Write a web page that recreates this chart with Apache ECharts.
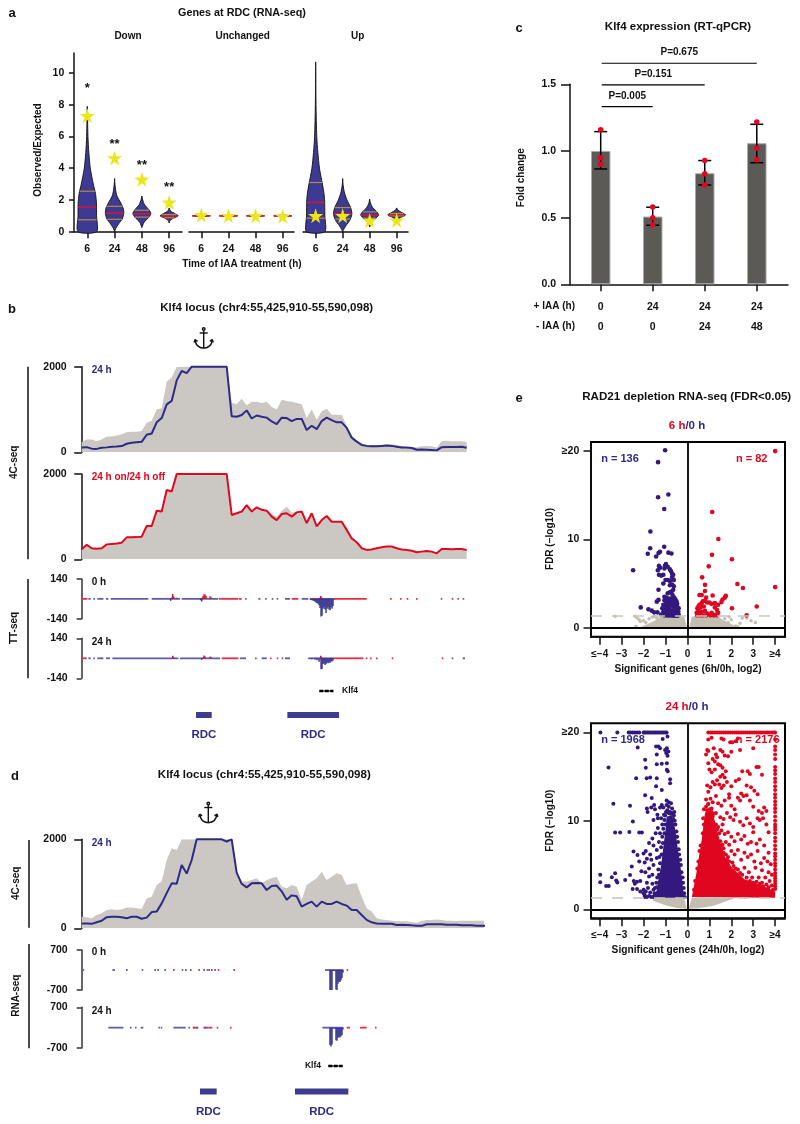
<!DOCTYPE html>
<html><head><meta charset="utf-8">
<script src="https://cdn.jsdelivr.net/npm/echarts@6/dist/echarts.min.js"></script>
<style>html,body{margin:0;padding:0;background:#fff}#c{width:800px;height:1124px}</style></head>
<body><div id="c"></div>
<script>
// ---------- panel a ----------
const hours = ['6','24','48','96'];
const violinDown6 = [[7.9,0],[7,.012],[6,.024],[5,.055],[4,.11],[3,.22],[2.4,.3],[1.8,.335],[1,.34],[0,.34]];
const violinDown24 = [[3.35,0],[3,.012],[2.5,.05],[2.2,.1],[1.9,.2],[1.5,.31],[1.2,.34],[.8,.28],[.5,.15],[.2,.04],[0,0]];
const violinDown48 = [[2.25,0],[2,.03],[1.7,.1],[1.4,.25],[1.15,.33],[.9,.25],[.6,.08],[.25,0]];
const violinDown96 = [[1.5,0],[1.3,.05],[1.15,.2],[1,.33],[.85,.15],[.7,.03],[.55,0]];
const violinFlat = [[1.06,0],[1,.33],[.94,0]];
const violinUp6 = [[10.7,0],[8,.012],[6,.04],[5,.08],[4,.14],[3,.25],[2.5,.3],[2,.33],[1,.34],[0,.34]];
const violinUp24 = [[3.35,0],[3,.012],[2.5,.06],[2,.16],[1.5,.3],[1.1,.34],[.7,.26],[.4,.13],[.15,.04],[0,0]];
const violinUp48 = [[2.05,0],[1.8,.03],[1.5,.12],[1.25,.27],[1.05,.33],[.8,.2],[.55,.06],[.3,0]];
const violinUp96 = [[1.5,0],[1.35,.05],[1.2,.2],[1.05,.33],[.9,.15],[.7,0]];
const quartDown = [[.75,1.55,2.55],[.78,1.17,1.6],[.92,1.12,1.35],[.88,.98,1.08]];
const quartFlat = [[1,1],[1,1],[1,1],[1,1]];
const quartUp = [[.85,1.85,3.1],[.8,1.13,1.52],[.85,1.05,1.25],[1,1.07,1.15]];
const starsDown = [7.3,4.65,3.3,1.85];
const starsFlat = [1.05,1,1,.97];
const starsUp = [1,1,.7,.72];
const sigDown = [['*',9.0],['**',5.5],['**',4.2],['**',2.8]];
// ---------- panel c ----------
const plusIAA = ['0','24','24','24'];
const minusIAA = ['0','0','24','48'];
const meanFold = [1.0,.508,.833,1.058];
const errFold = [[.865,1.145],[.443,.578],[.745,.928],[.912,1.2]];
const pointsFold = [[1.16,.95,.9],[.58,.5,.447],[.928,.83,.745],[1.218,1.02,.935]];
const pBrackets = [[0,1,1.332,'P=0.005'],[0,2,1.495,'P=0.151'],[0,3,1.658,'P=0.675']];
// ---------- 4C tracks (one value per bin) ----------
const binStep = 15;
const b24line = [110,120,85,80,105,115,130,135,145,200,225,235,245,410,440,700,800,1120,1200,1680,1900,1850,2000,2000,2000,2000,2000,2000,2000,2000,840,830,870,980,790,860,830,810,720,660,810,800,730,780,780,520,620,540,730,810,750,700,700,570,340,250,170,150,140,140,150,160,150,130,110,110,100,60,65,60,55,45,120,125,125,125,130,105];
const b24grey = [240,300,300,260,300,370,370,390,420,470,480,480,500,690,740,1000,1030,1650,1750,2000,2000,2000,2000,2000,2000,2000,2000,2000,2000,2000,1150,1130,1250,1100,1180,1180,1150,1180,1060,1000,1230,1200,1180,1150,1120,800,1000,760,960,1020,880,880,870,620,400,280,210,170,170,170,170,190,190,170,150,120,130,110,140,150,140,110,260,270,260,260,260,240];
const b48line = [235,340,260,250,260,350,360,370,390,515,515,520,530,780,780,1140,1120,1625,1590,2000,2000,2000,2000,2000,2000,2000,2000,2000,2000,2000,1040,1080,1120,1270,1120,1220,1160,1140,1000,920,1060,1080,1000,1100,1120,850,1080,770,920,1015,880,880,880,690,490,400,260,220,230,260,280,300,300,260,230,220,200,165,180,195,180,140,240,240,235,240,240,220];
const b48grey = [225,330,250,240,250,345,355,365,385,510,510,515,525,770,770,1130,1110,1600,1570,2000,2000,2000,2000,2000,2000,2000,2000,2000,2000,2000,1050,1090,1130,1260,1130,1220,1170,1150,1060,1000,1130,1230,1100,1110,1120,860,1090,780,930,1010,870,870,870,680,470,370,240,200,215,240,265,285,285,245,215,205,185,150,165,180,165,125,225,225,220,225,225,205];
const d24line = [110,110,100,135,170,250,260,260,250,225,260,260,215,240,365,375,560,790,1010,1000,1420,1230,1535,2000,2000,2000,2000,2000,2000,1950,2000,1250,1000,920,1010,1020,1010,860,950,960,830,640,740,720,487,547,600,487,600,547,547,600,547,510,410,410,300,190,135,110,105,105,100,75,80,75,67,60,55,90,90,90,90,80,80,80,67,67,67,60,60,55];
const d24grey = [260,250,225,300,340,410,430,410,430,470,465,450,435,670,710,975,1050,1535,1800,1760,2000,2000,2000,2000,2000,2000,2000,2000,2000,2000,2000,1235,1050,1050,1085,1125,1010,1085,1125,1160,935,900,975,935,640,975,1050,1125,1270,1085,1160,1235,1200,975,1000,1010,710,450,375,225,200,187,172,157,157,157,142,127,165,187,187,200,187,172,172,165,172,172,172,172,172,172];
// ---------- nascent / steady-state RNA tracks: x offset in window units ----------
const tt0BlueRuns = [[20,27],[35,38],[47,65],[73,80],[87,200],[210,295],[300,410],[472,476],[490,493],[550,553],[570,573],[585,588],[610,625],[660,680],[685,755],[1077,1080],[1127,1130],[1143,1146]];
const tt0RedRuns = [[0,17],[412,420],[420,470],[475,478],[530,536],[630,650],[690,700],[755,855],[925,930],[955,958],[975,978],[1003,1006],[1110,1113]];
const tt0Plus = [[270,10],[273,35],[276,15],[285,8],[362,10],[364,18],[367,32],[370,30],[373,20],[385,18],[388,10],[714,8],[717,20],[720,10]];
const tt0Minus = [[267,-14],[357,-10],[360,-18],[685,-5],[688,-7],[691,-9],[694,-12],[697,-15],[700,-20],[703,-25],[706,-30],[709,-35],[712,-45],[715,-65],[718,-125],[721,-120],[724,-70],[727,-60],[730,-75],[733,-100],[736,-70],[739,-60],[742,-75],[745,-80],[748,-60],[751,-70],[754,-50],[757,-5]];
const tt24BlueRuns = [[20,27],[35,38],[47,65],[73,85],[92,290],[295,415],[475,493],[540,555],[600,603],[610,625],[680,755],[1110,1113],[1143,1150]];
const tt24RedRuns = [[0,15],[420,470],[520,523],[565,568],[585,588],[755,845],[852,855],[865,868],[883,886],[930,933],[1080,1083]];
const tt24Plus = [[273,18],[276,8],[365,8],[367,20],[370,12],[385,13],[388,8],[717,18],[720,8]];
const tt24Minus = [[360,-10],[680,-3],[690,-6],[700,-9],[706,-14],[712,-25],[718,-77],[721,-75],[724,-40],[727,-35],[730,-47],[733,-40],[736,-30],[739,-35],[742,-30],[745,-32],[748,-22],[751,-23],[754,-15]];
const rna0BlueRuns = [[3,5],[92,100],[133,135],[180,182],[218,222],[227,229],[248,250],[300,303],[310,313],[325,327],[350,353],[365,368],[380,383],[398,401],[730,785]];
const rna0RedRuns = [[274,276],[375,378],[388,390],[408,410],[455,457],[795,798]];
const rna0Minus = [[745,-700],[748,-700],[751,-700],[754,-30],[757,-30],[760,-30],[763,-680],[766,-700],[769,-480],[772,-400],[775,-420],[778,-360],[781,-280],[784,-100]];
const rna24BlueRuns = [[80,125],[145,148],[160,163],[177,185],[230,233],[237,240],[275,312],[320,323],[335,350],[365,380],[722,785]];
const rna24RedRuns = [[333,336],[343,346],[368,372],[380,392],[405,408],[445,447],[795,805],[835,855],[880,883]];
const rna24Minus = [[745,-600],[748,-650],[751,-580],[754,-30],[757,-30],[760,-30],[763,-430],[766,-450],[769,-340],[772,-340],[775,-330],[778,-300],[781,-250],[784,-60]];
const rdcB = [[343,390],[617,772]];
const rdcD = [[355,405],[640,800]];
const klf4B = [713,755];
const klf4D = [740,783];
// ---------- panel e ----------
const xLabels = {'-4':'≤−4','-3':'−3','-2':'−2','-1':'−1','0':'0','1':'1','2':'2','3':'3','4':'≥4'};
const yLabels = {'0':'0','10':'10','20':'≥20'};
const blue6 = [[-1.02,20.1],[-1.34,18.75],[-.87,15.08],[-1.34,14.77],[-1.06,13.45],[-1.69,10.9],[-1.06,9.17],[-1.7,9],[-1.81,8.37],[-.87,8.5],[-.73,8.4],[-1.25,8.6],[-1.32,8.45],[-1.43,8.07],[-2.48,6.5],[-2.13,2.3],[-1.78,2.08],[-1.63,1.93],[-1.52,1.74],[-1.37,1.74],[-1.32,4.3],[-1.4,2.95],[-1.32,3.15],
[-1.3,7],[-1.35,6.5],[-1.25,6.8],[-1.3,6],[-1.2,5.9],[-1.1,6],[-.98,7.2],[-1.03,7],[-1.05,6.7],[-.9,6.9],[-.8,6.6],[-.75,6.4],[-.7,6.1],[-.65,6],[-.7,5.7],[-.62,5.4],[-.8,5.3],[-.9,5.4],[-1,5.4],[-1.1,5],[-.8,4.8],[-.7,4.9],[-.62,4.7],[-.65,4.3],[-.72,4.1],[-.8,4],[-.9,3.9],[-.68,3.7],[-1.05,3.5],[-.95,3.4],[-.8,3.3],[-.7,3.2],[-.6,3.4],[-.55,3.2],[-.5,3],[-1.05,3.1],[-.98,3],[-.9,2.95],[-.8,2.9],[-.72,2.85],[-.64,2.8],[-.55,2.75],[-.47,2.7],[-1.1,2.6],[-1,2.55],[-.93,2.5],[-.85,2.45],[-.75,2.5],[-.65,2.4],[-.55,2.35],[-.45,2.3],[-.4,2.2],[-1,2.1],[-.9,2.05],[-.8,2],[-.7,1.95],[-.6,2],[-.5,1.9],[-.42,1.85],[-1.1,1.8],[-1,1.7],[-.9,1.65],[-.8,1.6],[-.7,1.6],[-.6,1.55],[-.5,1.5],[-.4,1.5],[-1.05,1.4],[-.95,1.4],[-.85,1.38],[-.75,1.38],[-.65,1.35],[-.55,1.36],[-.45,1.35],[-.75,1.8],[-.65,1.75],[-.55,1.7],[-.45,1.65],[-1.2,1.5],[-1.15,2.2],[-.85,2.7],[-.6,2.55]];
const red6 = [[4,20],[1.13,13.1],[1.41,10.05],[1.12,8.25],[2.03,7.75],[.97,6.95],[.67,5.7],[.8,4.85],[2.28,4.95],[2.53,4.5],[4,4.6],[.8,4.15],[3.16,2.4],[2.03,2.2],[2.7,1.4],[.55,3.7],[.65,3.7],[.85,3.4],[1.15,3.65],[1.75,3.6],[1.7,3.4],[1.6,3.2],[1.55,2.9],[1.4,2.6],[.8,3.05],[.7,3],[.65,2.8],[.9,2.85],[1,2.85],[1.1,2.7],[1.25,2.8],[.55,2.6],[.5,2.4],[.45,2.2],[.6,2.3],[.75,2.4],[.5,1.9],[.42,1.7],[.55,1.6],[.65,1.8],[.8,1.9],[.9,1.6],[1,1.5],[1.1,1.7],[1.25,2.3],[1.35,2],[1.4,1.7],[1.3,1.5],[.45,1.4],[.6,1.4],[.7,1.4],[.85,1.4],[1.05,1.4],[1.2,1.4],[1.35,1.4],[.5,1.5]];
const grey6 = [[-3.3,1.3],[-2.4,1.3],[-2.3,1.1],[-2.2,.9],[-2.15,.7],[-2,.8],[-1.9,.6],[-1.75,1],[-1.6,1.2],[-1.5,1.3],[-1.4,1.1],[-2.35,.15],[2.5,1.1],[2.7,1.1],[2.9,.8],[3.1,.6],[2.4,.5],[2.2,.2],[2.3,.1],[2,.9],[1.9,1.25],[1.85,.6],[1.7,1]];
const greyArea6 = [[-.02,0],[-.15,1.25],[-.4,1.35],[-1.2,1.3],[-1.45,.85],[-2.1,.1],[-2.2,0]];
const greyArea6b = [[.08,0],[.2,1.25],[.45,1.35],[1.4,1.3],[1.6,.9],[2.1,.3],[2.35,0]];
const blueArea24 = [[-1.45,1.3],[-1.35,3],[-1.2,5],[-1.1,7],[-1,9],[-.95,10.5],[-.7,10.6],[-.55,9],[-.45,7],[-.3,4.5],[-.15,1.3]];
const redArea24 = [[.2,1.4],[.4,4],[.65,7.85],[.8,10.9],[1,11.6],[1.25,10],[1.45,8],[1.7,6],[2,4.8],[2.6,3.4],[3.3,2.8],[4,2],[4,1.3]];
const greyArea24a = [[-.03,.05],[-.15,1.3],[-1.5,1.3],[-1.6,1],[-1,.45],[-.5,.15]];
const greyArea24b = [[.05,.05],[.2,1.3],[2.2,1.3],[1.2,.4],[.5,.12]];
const blue24Top = [-3.97,-3.2,-2.68,-2.6,-2.5,-2.4,-2.3,-2.2,-2,-1.95,-1.9,-1.82,-1.75,-1.68,-1.6,-1.52,-1.45,-1.38,-1.3,-1.22,-1.15,-1.08,-1,-.95];
const blue24 = [[-3.98,3.9],[-3.98,3.05],[-3.71,2.64],[-3.59,2.64],[-3.45,3.62],[-3.3,4.08],[-3.25,3.25],[-3.2,3.02],[-2.84,3.32],[-2.62,3.89],[-2.54,4.83],[-2.46,6.53],[-2.28,6.15],[-3.6,16.04],[-3.38,11.92],[-3.3,8.68],[-3.07,8.68],[-2.62,11.7],[-2.49,9.92],[-2.65,8.75],[-2.2,8.68],[-2.08,8.68],[-2.34,14.83],[-2.27,18.3],[-1.93,16.9],[-1.9,16],[-1.86,14.83],[-1.7,14.9],[-1.4,14.83],[-1.93,12.9],[-1.63,12.57],[-1.43,13.9],[-1.17,13.5],[-.79,14.7],[-.79,14.26],[-.94,15.77],[-.9,15.6],[-.94,16.5],[-1.4,16.4],[-1.17,16.45],[-1.43,18.4],[-1.32,18.4],[-1.25,18.2],[-1.13,19.25],[-.91,19.55],[-1.02,18],[-.94,18.2],[-.97,17.66],[-.87,17.85],[-.91,17.36],[-1.4,17.5],
[-1.85,11.4],[-1.82,11],[-1.65,11.5],[-1.52,11.8],[-1.48,11.3],[-1.37,10.7],[-1.25,11.5],[-1.17,11.8],[-1.1,11.5],[-1.07,10.7],[-.95,12.3],[-.85,12.1],[-.75,12],[-.95,11.8],[-.85,11.6],[-.7,11.4],[-.8,11],[-.62,10.6],[-1.35,10.3],[-1.2,10.3],[-1.55,10.1],[-1.35,9.2],[-1.25,8.6],[-1.15,9.6],[-1.45,8.6],[-1.6,8],[-1.55,7.2],[-1.3,7.6],[-1.75,7.5],[-1.9,6.6],[-2,6.3],[-1.85,5.7],[-1.7,6.2],[-1.65,5.6],[-1.55,5],[-1.4,5.8],[-1.4,6.7],[-1.95,5.3],[-2.2,5.4],[-2.1,4.3],[-1.92,4.2],[-1.75,4.6],[-1.6,3.9],[-1.75,3.7],[-2.45,3.2],[-2.3,3.1],[-2.15,3.2],[-2.4,2.9],[-2.5,2.3],[-2.3,2.3],[-2.15,2],[-2,2.2],[-1.95,1.6],[-1.85,3],[-1.8,2.4],[-1.7,1.9],[-1.6,2.9],[-1.55,2.2],[-1.5,1.6],[-1.95,1.4],[-1.85,1.4],[-1.75,1.5],[-1.65,1.4],[-1.55,1.4],[-1.45,1.5],[-1.4,2.5],[-1.35,1.9],[-2,1.8],[-1.9,2],
[-.6,11],[-.65,10.2],[-.58,10],[-.55,9.6],[-.5,8.8],[-.47,8.2],[-.43,7.6],[-.4,6.8],[-.38,6.2],[-.33,5.6],[-.3,5],[-.27,4.2],[-.22,3.6],[-.2,3],[-.17,2.4],[-.15,1.8],[-.12,1.4],[-1.5,1.8],[-1.48,2.4],[-1.42,3],[-1.38,3.6],[-1.3,3.9],[-1.33,4.5],[-1.25,5.2],[-1.28,5.9],[-1.18,6.2],[-1.2,7],[-1.12,7.5],[-1.15,8.2],[-1.05,8.6],[-1.1,9.1],[-1,9.6],[-1.05,10.1],[-1.02,10.6],[-.98,11],[-.92,11.2],[-.86,10.9],[-.78,10.8],[-.72,10.9],[-.66,10.7]];
const red24Top = [.95,1.05,1.15,1.25,1.35,1.45,1.55,1.65,1.75,1.85,1.95,2.05,2.15,2.25,2.35,2.45,2.55,2.65,2.75,2.85,2.95,3.05,3.15,3.25,3.35,3.45,3.55,3.65,3.75,3.85,3.95,4];
const red24Column = [2.3,2.6,2.9,3.2,3.5,3.8,4.1,4.5,4.9,5.2,5.6,6,6.3,6.8,7.2,7.7,8.1,8.6,9,9.3,9.6,10,10.5,11,11.4,11.8,12.2,12.6,13,13.5,13.9,14.4,14.8,15.3,15.7,16.1,17,17.5,18,18.4,19.2];
const red24 = [[.95,19.2],[1.1,19.4],[1.55,19.3],[1.65,19.2],[1.95,18.9],[2.05,18.9],[2.2,19],[2.3,19.3],[3,18.2],[.9,18],[.85,17.5],[.95,17.9],[1.2,18.2],[1.3,17.5],[1.35,17.2],[1.5,18],[1.6,17.8],[1.7,17.4],[1.85,17.3],[2,17.8],[2.4,18],[1.15,17],[1.25,16.7],[.95,16.5],[1,15.8],[1.1,15.5],[1.25,15.8],[1.4,16.4],[1.5,16.3],[1.6,16],[1.75,15.6],[2.5,15.6],[2.75,15.6],[2.85,15.3],[3.15,16.1],[3.25,16.1],[3.4,15.2],[1.5,15],[1.6,15.2],[1.7,14.9],[.9,14],[.95,13.3],[1.05,13.8],[1.15,14.4],[1.25,14.1],[1.35,14.6],[1.45,14.1],[1.55,13.7],[1.65,14],[1.8,14.4],[2,13.9],[2.2,14.5],[2.35,14.7],[2.45,13.1],[2.7,14],[2.9,13.8],[3.05,13.4],[3.2,13],[1.9,13],[.85,12.4],[.95,11.9],[1.05,12.5],[1.15,12.1],[1.3,12.8],[1.4,12],[1.55,11.7],[1.7,12.3],[1.9,12.6],[2,11.7],[2.15,11.3],[2.3,12.6],[2.4,12.3],[2.55,12.8],[2.7,12.9],[2.85,12.3],[3,11.6],[3.25,11.1],[3.5,11.5],[3.6,11.1],[3.4,10.9],[1.3,10.9],[1.5,10.4],[1.65,10.2],[1.8,10.9],[1.95,10.4],[2.1,10.1],[2.2,10.7],[2.4,9.9],[2.55,9.5],[2.7,10.3],[2.85,9.7],[3,9.3],[3.2,10.3],[3.3,10.1],[3.45,10.3],[3.6,9.6],[1.55,8.9],[1.7,8.5],[1.85,8.7],[2,8.2],[2.15,7.7],[2.3,8.5],[2.45,7.9],[2.6,8.3],[2.75,7.4],[2.9,7.6],[3,8.7],[3.15,7.4],[3.3,7.9],[3.5,7.2],[3.7,8.7],[2,6.6],[2.15,6.2],[2.3,6.7],[2.45,5.6],[2.6,6.4],[2.75,5.9],[2.9,6.2],[3.05,5.4],[3.2,6.6],[3.35,5.2],[3.5,5.8],[3.65,5.4],[3.8,5.1],[3.7,6.4],[2.6,4.7],[2.8,4.2],[2.95,3.6],[3.1,4.7],[3.25,3.6],[3.4,4.4],[3.55,3.6],[3.7,4.2],[3.85,3.9],[3.75,3.2],[3.4,3],[1.6,9.6],[1.4,9.3],[1.75,7.6],[1.9,7.3],[1.65,6.9],[1.85,5.9],[1.2,10.8],[.9,11.2],[.95,10.8],[1.1,11.4],[.75,11.3],
[.3,2.2],[.35,3.2],[.45,4.6],[.5,5.4],[.55,6.6],[.6,7.2],[.7,8.6],[.75,9.6],[.72,10.3],[.85,11.6],[.95,11.9],[1.1,11],[1.15,10.5],[1.3,9.6],[1.35,9],[1.45,8.6],[1.5,7.7],[1.6,7.3],[1.55,6.9],[1.65,6.4],[1.75,6.2],[1.8,5.6],[1.9,5.4],[2.05,5.3],[2.1,4.9],[2.2,4.6],[2.3,4.5],[2.4,4.1],[2.5,3.9],[2.7,3.6],[2.85,3.2],[3,3],[3.15,3.1],[3.3,2.9],[3.45,2.6],[3.6,2.8],[3.7,2.5],[3.85,2.7],[3.9,2.2]];

// ---------- drawing ----------
const F = '"Liberation Sans",Arial,sans-serif';
const NAVY = '#2e2a86', RED = '#e3061f', VIOL = '#3d3a93', GREY = '#cbc7c3', INK = '#111';
const grid = [], xAxis = [], yAxis = [], series = [], graphic = [];

function ax(o){
  const a = {type:'value', min:o.min, max:o.max, gridIndex:grid.length, splitLine:{show:false}};
  if(!o.ticks){ a.show = false; return a; }
  a.axisLine = {show:o.line!==false, onZero:false, lineStyle:{color:o.color||INK, width:o.lw||1.5}};
  a.axisTick = {show:true, length:o.tl||5, customValues:o.ticks, lineStyle:{color:o.color||INK, width:o.lw||1.5}};
  a.axisLabel = {show:true, customValues:o.ticks, margin:o.margin||5, color:INK, fontFamily:F, fontWeight:'bold', fontSize:o.fs||10.5, lineHeight:o.lh||undefined,
    formatter:o.fmt||(v=>String(v))};
  return a;
}
function addGrid(l,t,r,b,xo,yo,extra){
  const x = ax(xo), y = ax(yo);
  grid.push(Object.assign({left:l,top:t,width:r-l,height:b-t}, extra||{}));
  xAxis.push(x); yAxis.push(y);
  return grid.length-1;
}
function custom(g, rows, render, z){
  series.push({type:'custom', coordinateSystem:'cartesian2d', xAxisIndex:g, yAxisIndex:g, silent:true, z:z||3,
    data:rows.map((_,i)=>[i,i]), renderItem:(p,api)=>render(rows[p.dataIndex],api,p.dataIndex)});
}
function scatter(g, data, color, size, z, symbol){
  series.push({type:'scatter', xAxisIndex:g, yAxisIndex:g, silent:true, data, symbolSize:size, symbol:symbol||'circle', itemStyle:{color, opacity:1}, z:z||4});
}
function text(x,y,t,o){
  o=o||{};
  graphic.push({type:'text', x, y, rotation:o.rot||0, silent:true, z:50,
    style:{text:t, fill:o.color||INK, font:`${o.weight||'bold'} ${o.fs||10.5}px ${F}`, textAlign:o.align||'center', textVerticalAlign:'middle', rich:o.rich}});
}
function vline(x,y0,y1){ graphic.push({type:'line', silent:true, shape:{x1:x,y1:y0,x2:x,y2:y1}, style:{stroke:INK,lineWidth:1.5}}); }
function anchor(x,y){
  const st={stroke:INK,lineWidth:1.4,fill:null};
  const seg=(a,b,c,d)=>graphic.push({type:'line',silent:true,shape:{x1:x+a,y1:y+b,x2:x+c,y2:y+d},style:st});
  graphic.push({type:'circle',silent:true,shape:{cx:x,cy:y-9,r:1.3},style:st});
  seg(0,-7.6,0,10); seg(-4,-5,4,-5);
  graphic.push({type:'bezierCurve',silent:true,shape:{x1:x-8.6,y1:y+1.6,cpx1:x-8,cpy1:y+8,cpx2:x-4,cpy2:y+10,x2:x,y2:y+10.2},style:st});
  graphic.push({type:'bezierCurve',silent:true,shape:{x1:x+8.6,y1:y+1.6,cpx1:x+8,cpy1:y+8,cpx2:x+4,cpy2:y+10,x2:x,y2:y+10.2},style:st});
  seg(-8.6,1.6,-9.6,4.4); seg(-8.6,1.6,-6.2,3.4); seg(8.6,1.6,9.6,4.4); seg(8.6,1.6,6.2,3.4);
}

// panel a
const STAR = 'path://M50,0 L61,35 98,35 68,57 79,91 50,70 21,91 32,57 2,35 39,35 Z';
function widthAt(p,v){
  for(let i=0;i<p.length-1;i++){ const a=p[i],b=p[i+1];
    if(v<=a[0]&&v>=b[0]) return a[1]+(b[1]-a[1])*(a[0]-v)/((a[0]-b[0])||1); }
  return 0;
}
function violins(g, profiles, quarts, stars){
  profiles.forEach((p,i)=>{
    custom(g,[p],(prof,api)=>{
      const unit = api.size([1,0])[0];
      const c = api.coord([i,0])[0];
      const pts = prof.map(r=>[c+r[1]*unit, api.coord([i,r[0]])[1]])
        .concat(prof.slice().reverse().map(r=>[c-r[1]*unit, api.coord([i,r[0]])[1]]));
      const kids = [{type:'polygon',shape:{points:pts,smooth:prof.length>4?0.25:0},style:{fill:VIOL,stroke:'#111',lineWidth:.9}}];
      quarts[i].forEach((q,k)=>{
        const w = widthAt(prof,q)*unit, y = api.coord([i,q])[1];
        kids.push({type:'line',shape:{x1:c-w,y1:y,x2:c+w,y2:y},style:{stroke:k===1?'#e3112f':'#b98b45',lineWidth:k===1?1.4:1.2}});
      });
      return {type:'group',children:kids};
    },3);
  });
  scatter(g, stars.map((v,i)=>[i,v]), '#ece51a', 15, 5, STAR);
}
const tickIdx=[0,1,2,3], fmtHour=v=>hours[v];
const aY={min:0,max:11.26,ticks:[0,2,4,6,8,10],tl:5,margin:9.7};
const gA1 = addGrid(74,53,182,231.7,{min:-.487,max:3.47,ticks:tickIdx,fmt:fmtHour,tl:6.5,margin:11.5},aY);
const gA2 = addGrid(189,53,294,231.7,{min:-.453,max:3.417,ticks:tickIdx,fmt:fmtHour,tl:6.5,margin:11.5},{min:0,max:11.26});
const gA3 = addGrid(303,53,408,231.7,{min:-.47,max:3.42,ticks:tickIdx,fmt:fmtHour,tl:6.5,margin:11.5},{min:0,max:11.26});
violins(gA1,[violinDown6,violinDown24,violinDown48,violinDown96],quartDown,starsDown);
violins(gA2,[violinFlat,violinFlat,violinFlat,violinFlat],quartFlat,starsFlat);
violins(gA3,[violinUp6,violinUp24,violinUp48,violinUp96],quartUp,starsUp);
custom(gA1,sigDown,(r,api,i)=>{
  const p=api.coord([i,r[1]]);
  return {type:'text',x:p[0],y:p[1],style:{text:r[0],fill:INK,font:`bold 13px ${F}`,textAlign:'center',textVerticalAlign:'middle'}};
},6);
text(12,13,'a',{fs:13}); text(242,12.7,'Genes at RDC (RNA-seq)',{fs:10.8});
text(128,36.7,'Down',{fs:10}); text(242.7,36.7,'Unchanged',{fs:10}); text(357.7,36.7,'Up',{fs:10});
text(38,150,'Observed/Expected',{rot:Math.PI/2,fs:10}); text(242,264.5,'Time of IAA treatment (h)',{fs:10});

// panel c
const gC = addGrid(570,84.3,788,284.3,{min:-.59,max:3.6,ticks:tickIdx,fmt:v=>plusIAA[v]+'\n'+minusIAA[v],tl:7,margin:13.5,lh:19.3},
  {min:0,max:1.5,ticks:[0,.5,1,1.5],fmt:v=>v.toFixed(1),tl:9,margin:14});
series.push({type:'bar',xAxisIndex:gC,yAxisIndex:gC,silent:true,barWidth:19.5,data:meanFold.map((v,i)=>[i,v]),
  itemStyle:{color:'#5b5a57',borderColor:'#a9a8a5',borderWidth:1},z:2});
custom(gC,errFold,(e,api,i)=>{
  const a=api.coord([i,e[0]]),b=api.coord([i,e[1]]);
  const s={stroke:'#000',lineWidth:1.5};
  return {type:'group',children:[{type:'line',shape:{x1:a[0],y1:a[1],x2:b[0],y2:b[1]},style:s},
    {type:'line',shape:{x1:a[0]-6.5,y1:a[1],x2:a[0]+6.5,y2:a[1]},style:s},{type:'line',shape:{x1:b[0]-6.5,y1:b[1],x2:b[0]+6.5,y2:b[1]},style:s}]};
},3);
scatter(gC,pointsFold.flatMap((p,i)=>p.map(v=>[i,v])),'#e3061f',5.5,5);
custom(gC,pBrackets,(r,api)=>{
  const a=api.coord([r[0]+.02,r[2]]),b=api.coord([r[1],r[2]]);
  return {type:'group',children:[{type:'line',shape:{x1:a[0],y1:a[1],x2:b[0],y2:b[1]},style:{stroke:'#000',lineWidth:1.2}},
    {type:'text',x:(a[0]+b[0])/2,y:a[1]-10.5,style:{text:r[3],fill:INK,font:`bold 10px ${F}`,textAlign:'center',textVerticalAlign:'middle'}}]};
},3);
text(519,28,'c',{fs:13}); text(678,27,'Klf4 expression (RT-qPCR)',{fs:11.5});
text(521,177.7,'Fold change',{rot:Math.PI/2,fs:10});
text(575,306.7,'+ IAA (h)',{align:'right',fs:10}); text(575,326,'- IAA (h)',{align:'right',fs:10});

// tracks
function track4C(l,r,t,b,maxX,grey,line,color){
  const g = addGrid(l,t,r,b,{min:0,max:maxX},{min:0,max:2000,ticks:[0,2000],tl:7.5,margin:15,fmt:v=>String(v)});
  const toXY=a=>a.map((v,i)=>[i*binStep,v]);
  series.push({type:'line',xAxisIndex:g,yAxisIndex:g,silent:true,symbol:'none',data:toXY(grey),lineStyle:{width:0},areaStyle:{color:GREY,opacity:1},z:2});
  series.push({type:'line',xAxisIndex:g,yAxisIndex:g,silent:true,symbol:'none',data:toXY(line),lineStyle:{color,width:2},z:3,clip:false});
  return g;
}
function trackSignal(l,r,t,b,maxX,lim,blueRuns,redRuns,plus,minus){
  const g = addGrid(l,t,r,b,{min:0,max:maxX},{min:-lim,max:lim,ticks:[-lim,lim],tl:5,margin:14,color:'#333',fmt:v=>String(v)});
  const run=(c,rows)=>custom(g,rows,(q,api)=>{
    const a=api.coord([q[0],0]),e=api.coord([q[1],0]);
    return {type:'rect',shape:{x:a[0],y:a[1]-.9,width:Math.max(e[0]-a[0],1.6),height:1.8},style:{fill:c}};
  },3);
  const sig=(c,rows)=>custom(g,rows,(q,api)=>{
    const a=api.coord([q[0],0]),e=api.coord([q[0],q[1]]);
    return {type:'rect',shape:{x:a[0]-.7,y:Math.min(a[1],e[1]),width:1.4,height:Math.abs(e[1]-a[1])},style:{fill:c}};
  },4);
  run('#5f5bab',blueRuns); run('#ee2a40',redRuns); sig('#e3061f',plus); sig('#34308c',minus);
  return g;
}
function rdcTrack(l,r,t,b,maxX,rows){
  const g = addGrid(l,t,r,b,{min:0,max:maxX},{min:0,max:1});
  custom(g,rows,(q,api)=>{
    const a=api.coord([q[0],1]),e=api.coord([q[1],0]);
    return {type:'group',children:[{type:'rect',shape:{x:a[0],y:a[1],width:e[0]-a[0],height:e[1]-a[1]},style:{fill:'#3f3c8f'}},
      {type:'text',x:(a[0]+e[0])/2,y:e[1]+17.2,style:{text:'RDC',fill:NAVY,font:`bold 11.5px ${F}`,textAlign:'center',textVerticalAlign:'middle'}}]};
  },3);
}
function geneTrack(l,r,t,b,maxX,q){
  const g = addGrid(l,t,r,b,{min:0,max:maxX},{min:0,max:1});
  custom(g,[q],(s,api)=>{
    const a=api.coord([s[0],.5]),e=api.coord([s[1],.5]);
    return {type:'group',children:[{type:'line',shape:{x1:a[0],y1:a[1],x2:e[0],y2:e[1]},style:{stroke:'#000',lineWidth:1}},
      {type:'line',shape:{x1:a[0],y1:a[1],x2:e[0],y2:e[1]},style:{stroke:'#000',lineWidth:2.4,lineDash:[4,1.4]}}]};
  },3);
}
// panel b
const BL=81.7,BR=468.7,BX=1161, DL=81.7,DR=483.3,DX=1205;
track4C(BL,BR,366.7,452.3,BX,b24grey,b24line,NAVY);
track4C(BL,BR,474,559.3,BX,b48grey,b48line,RED);
trackSignal(BL,BR,579,618.7,BX,140,tt0BlueRuns,tt0RedRuns,tt0Plus,tt0Minus);
trackSignal(BL,BR,638.3,678.3,BX,140,tt24BlueRuns,tt24RedRuns,tt24Plus,tt24Minus);
geneTrack(BL,BR,688,694,BX,klf4B);
rdcTrack(BL,BR,712,718,BX,rdcB);
text(12,309,'b',{fs:13}); text(266.7,308.3,'Klf4 locus (chr4:55,425,910-55,590,098)',{fs:11.5});
anchor(203.7,338);
text(91.7,370.7,'24 h',{color:NAVY,align:'left',fs:10}); text(91.7,477.7,'24 h on/24 h off',{color:RED,align:'left',fs:10});
text(91.7,582.3,'0 h',{align:'left',fs:10}); text(91.7,642.7,'24 h',{align:'left',fs:10});
text(14,462.3,'4C-seq',{rot:Math.PI/2,fs:10}); text(14,628,'TT-seq',{rot:Math.PI/2,fs:10});
vline(28,366.7,559.3); vline(28,579,678.3);
text(342,691,'Klf4',{align:'left',fs:8.5});
// panel d
track4C(DL,DR,839.3,928.3,DX,d24grey,d24line,NAVY);
trackSignal(DL,DR,950,990,DX,700,rna0BlueRuns,rna0RedRuns,[],rna0Minus);
trackSignal(DL,DR,1007.3,1048,DX,700,rna24BlueRuns,rna24RedRuns,[],rna24Minus);
geneTrack(DL,DR,1063,1069,DX,klf4D);
rdcTrack(DL,DR,1088.5,1094.5,DX,rdcD);
text(15,776,'d',{fs:13}); text(264.3,775,'Klf4 locus (chr4:55,425,910-55,590,098)',{fs:11.5});
anchor(208.3,812.5);
text(91.7,843,'24 h',{color:NAVY,align:'left',fs:10});
text(91.7,952.7,'0 h',{align:'left',fs:10}); text(91.7,1011.7,'24 h',{align:'left',fs:10});
text(16.7,883.3,'4C-seq',{rot:Math.PI/2,fs:10}); text(16.7,995.7,'RNA-seq',{rot:Math.PI/2,fs:10});
vline(29,840,927.7); vline(29,944,1048.3);
text(313,1065.7,'Klf4',{fs:8.5});

// panel e
function volcano(t,b){
  return addGrid(591,t,785,b,{min:-4.4,max:4.45,ticks:[-4,-3,-2,-1,0,1,2,3,4],fmt:v=>xLabels[v],tl:8,margin:12.3,fs:10,lw:1.5},
    {min:-1.02,max:21.03,ticks:[0,10,20],fmt:v=>yLabels[v],tl:7.5,margin:11.7,fs:10.5},
    {show:true,borderColor:'#000',borderWidth:2});
}
function refLines(g){
  series.push({type:'line',xAxisIndex:g,yAxisIndex:g,silent:true,symbol:'none',data:[],z:6,
    markLine:{silent:true,symbol:'none',animation:false,label:{show:false},data:[
      {yAxis:1.3,lineStyle:{color:'#c9c4bc',width:1.5,type:[11,10]}},
      {yAxis:0,lineStyle:{color:'#000',width:1.8,type:'solid'}},
      {xAxis:0,lineStyle:{color:'#000',width:1.8,type:'solid'}}]}});
}
function area(g,pts,fill,z){
  custom(g,[pts],(p,api)=>({type:'polygon',shape:{points:p.map(q=>api.coord(q))},style:{fill}}),z);
}
const BLUEPT='#33197d', REDPT='#e0061f', GREYPT='#c4bdb2';
const gE1 = volcano(442,636.7);
area(gE1,greyArea6,GREYPT,2); area(gE1,greyArea6b,GREYPT,2);
scatter(gE1,grey6,GREYPT,3.5,3); scatter(gE1,blue6,BLUEPT,4.6,4); scatter(gE1,red6,REDPT,4.6,4);
refLines(gE1);
const gE2 = volcano(723.3,918.3);
area(gE2,greyArea24a,GREYPT,2); area(gE2,greyArea24b,GREYPT,2);
area(gE2,blueArea24,BLUEPT,3); area(gE2,redArea24,REDPT,3);
scatter(gE2,blue24,BLUEPT,4,4); scatter(gE2,blue24Top.map(x=>[x,20]),BLUEPT,4,4);
scatter(gE2,red24,REDPT,4,4); scatter(gE2,red24Top.map(x=>[x,20]),REDPT,4,4); scatter(gE2,red24Column.map(y=>[4,y]),REDPT,4,4);
refLines(gE2);
text(519,398,'e',{fs:13}); text(686.7,397,'RAD21 depletion RNA-seq (FDR<0.05)',{fs:11.6});
const headRich={r:{fill:RED,font:`bold 11.5px ${F}`},b:{fill:NAVY,font:`bold 11.5px ${F}`}};
text(687,426,'{r|6 h}{b|/0 h}',{rich:headRich}); text(687,707,'{r|24 h}{b|/0 h}',{rich:headRich});
text(688,668.7,'Significant genes (6h/0h, log2)',{fs:10.2}); text(688,950,'Significant genes (24h/0h, log2)',{fs:10.2});
text(550.7,539,'FDR (−log10)',{rot:Math.PI/2,fs:10}); text(550.7,820.7,'FDR (−log10)',{rot:Math.PI/2,fs:10});
text(620,458.7,'n = 136',{color:NAVY,fs:11}); text(751.7,458.7,'n = 82',{color:RED,fs:11});
text(623,740,'n = 1968',{color:NAVY,fs:11}); text(757.7,740,'n = 2176',{color:RED,fs:11});

const chart = echarts.init(document.getElementById('c'),null,{renderer:'canvas'});
chart.setOption({animation:false,backgroundColor:'#fff',grid,xAxis,yAxis,series,graphic:{elements:graphic}});
</script></body></html>
